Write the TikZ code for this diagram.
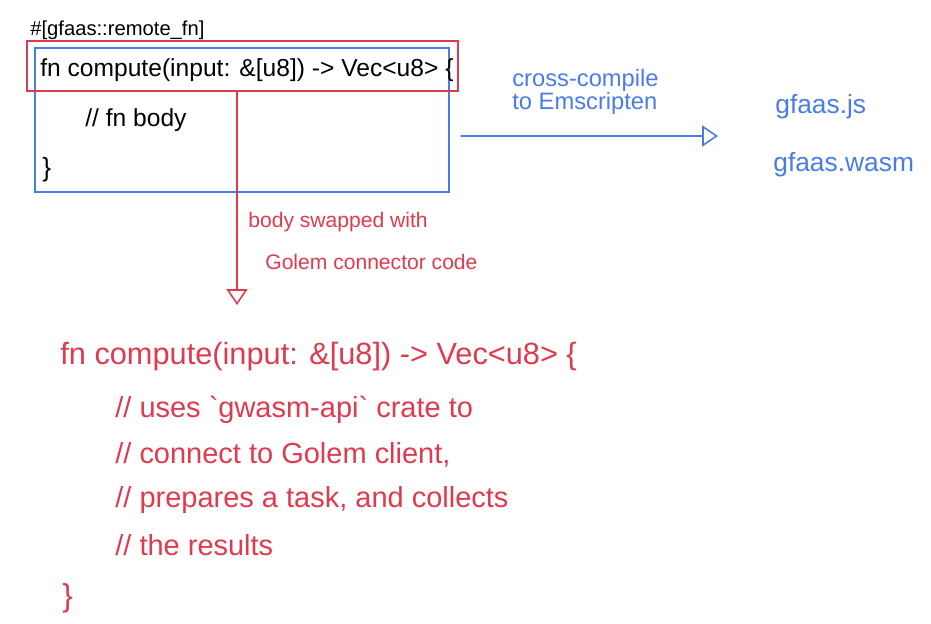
\documentclass[tikz,border=0pt]{standalone}
\usepackage{fontspec}
\setmainfont{Liberation Sans}
\usetikzlibrary{arrows.meta,positioning}
\definecolor{InkBlue}{RGB}{74,124,232}
\definecolor{InkRed}{RGB}{224,58,78}

\begin{document}
\begin{tikzpicture}[x=0.02cm,y=-0.02cm,
  every node/.style={inner sep=0pt},
  blueink/.style={InkBlue,line width=0.9pt},
  redink/.style={InkRed,line width=0.9pt},
  codetext/.style={anchor=west,font=\fontsize{14}{15}\selectfont},
  redcode/.style={anchor=west,text=InkRed,font=\fontsize{16.5}{17}\selectfont},
  opentip/.style={-{Triangle[open,length=9pt,width=12pt]}}]
  \useasboundingbox (0,0) rectangle (931,623);
  % original function
  \node[draw,blueink,minimum width=8.28cm,minimum height=2.88cm] (srcbox) at (242,120) {};
  \node[draw,redink,minimum width=8.62cm,minimum height=1.0cm] (sigbox) at (242.5,66) {};
  \node[anchor=west,font=\fontsize{11.5}{12}\selectfont] (attr) at (30,30) {\#[gfaas::remote\_fn]};
  \node[codetext] (sig) at (40,70) {fn compute(input: \&[u8]) -> Vec<u8> \{};
  \node[codetext] (body) at (85,120) {// fn body};
  \node[codetext,font=\fontsize{15}{16}\selectfont] (close) at (42,170) {\}};
  % cross-compile branch
  \coordinate (cctip) at (718,136);
  \draw[blueink,opentip] ([xshift=0.22cm,yshift=-0.32cm]srcbox.east) -- (cctip);
  \node[anchor=west,align=left,text=InkBlue,font=\fontsize{13.5}{13.5}\selectfont] (cclabel) at (512,92)
    {cross-compile\\to Emscripten};
  \node[anchor=west,text=InkBlue,font=\fontsize{15}{16}\selectfont] (jsout) at (775,107) {gfaas.js};
  \node[anchor=west,text=InkBlue,font=\fontsize{15}{16}\selectfont] (wasmout) at (773,165) {gfaas.wasm};
  % body swap branch
  \coordinate (swapend) at (237,305);
  \draw[redink,opentip] ([xshift=-0.11cm]sigbox.south) -- (swapend);
  \node[anchor=west,text=InkRed,font=\fontsize{12}{13}\selectfont] (swap1) at (248,222) {body swapped with};
  \node[anchor=west,text=InkRed,font=\fontsize{12}{13}\selectfont] (swap2) at (265,262) {Golem connector code};
  % generated function
  \node[redcode,font=\fontsize{17.5}{18}\selectfont] (newsig) at (60,357) {fn compute(input: \&[u8]) -> Vec<u8> \{};
  \node[redcode] (cmt1) at (115,410) {// uses \textasciigrave gwasm-api\textasciigrave{} crate to};
  \node[redcode] (cmt2) at (115,455) {// connect to Golem client,};
  \node[redcode] (cmt3) at (115,500) {// prepares a task, and collects};
  \node[redcode] (cmt4) at (115,545) {// the results};
  \node[redcode,font=\fontsize{18}{19}\selectfont] (newclose) at (62,598) {\}};
\end{tikzpicture}
\end{document}
